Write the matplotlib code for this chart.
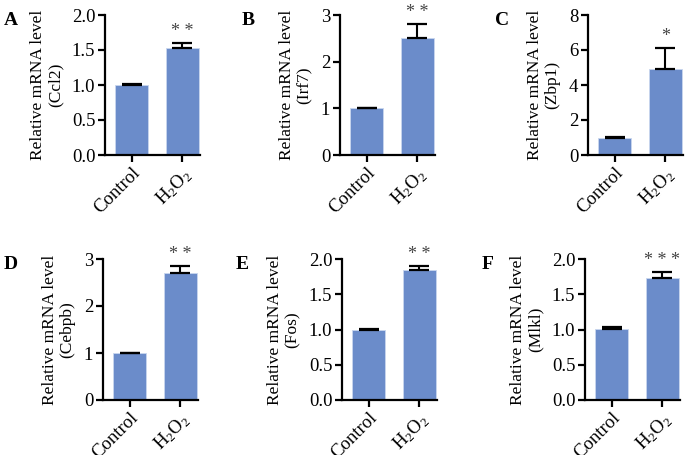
import matplotlib
matplotlib.use("Agg")
import matplotlib.pyplot as plt

plt.rcParams['font.family'] = ['Liberation Serif', 'DejaVu Serif']
plt.rcParams['mathtext.fontset'] = 'custom'
plt.rcParams['mathtext.rm'] = 'Liberation Serif'
plt.rcParams['mathtext.it'] = 'Liberation Serif:italic'

groups = ['Control', 'H$_2$O$_2$']
letters = ['A', 'B', 'C', 'D', 'E', 'F']
genes = ['Ccl2', 'Irf7', 'Zbp1', 'Cebpb', 'Fos', 'Mlkl']
control_vals = [1.0, 1.0, 1.0, 1.0, 1.0, 1.01]
control_err = [0.01, 0.0, 0.02, 0.01, 0.01, 0.02]
h2o2_vals = [1.53, 2.5, 4.9, 2.7, 1.84, 1.73]
h2o2_err = [0.07, 0.3, 1.2, 0.15, 0.06, 0.08]
stars = ['* *', '* *', '*', '* *', '* *', '* * *']
ymax = [2.0, 3, 8, 3, 2.0, 2.0]
yticks = [[0.0, 0.5, 1.0, 1.5, 2.0], [0, 1, 2, 3], [0, 2, 4, 6, 8],
          [0, 1, 2, 3], [0.0, 0.5, 1.0, 1.5, 2.0], [0.0, 0.5, 1.0, 1.5, 2.0]]
ytick_fmt = ['{:.1f}', '{:.0f}', '{:.0f}', '{:.0f}', '{:.1f}', '{:.1f}']

W, H = 693, 455
fig = plt.figure(figsize=(W / 100, H / 100), dpi=100)

# axes boxes in pixels: left x of y-axis, top, bottom
boxes = [(105, 15, 155), (340, 15, 155), (588, 15, 155),
         (103, 259, 400), (342, 259, 400), (585, 259, 400)]
letter_pos = [(4, 12), (242, 12), (495, 12), (4, 256), (236, 256), (482, 256)]
bar_color = '#6b8cca'
spacing = 50.5
x0, x1 = -0.53, 1.36

for i in range(6):
    left, top, bot = boxes[i]
    w = (x1 - x0) * spacing
    ax = fig.add_axes([left / W, (H - bot) / H, w / W, (bot - top) / H])
    vals = [control_vals[i], h2o2_vals[i]]
    errs = [control_err[i], h2o2_err[i]]
    ax.bar([0, 1], vals, width=0.66, color=bar_color, edgecolor='#c9d6ee',
           linewidth=0.6, zorder=2)
    ax.errorbar([0, 1], vals, yerr=[[0, 0], errs], fmt='none', ecolor='black',
                elinewidth=1.5, capsize=7, capthick=1.6, zorder=3)
    ax.text(1, vals[1] + errs[1] + ymax[i] * 0.025, stars[i], ha='center',
            va='bottom', fontsize=13, color='#444444')
    ax.set_xlim(x0, x1)
    ax.set_ylim(0, ymax[i])
    ax.set_yticks(yticks[i])
    ax.set_yticklabels([ytick_fmt[i].format(t) for t in yticks[i]])
    ax.set_xticks([0, 1])
    ax.set_xticklabels(groups, rotation=45, ha='right', rotation_mode='anchor')
    for s in ['top', 'right']:
        ax.spines[s].set_visible(False)
    for s in ['left', 'bottom']:
        ax.spines[s].set_linewidth(1.6)
    ax.tick_params(axis='both', width=1.6, length=5, labelsize=13.5, pad=2)
    ax.set_ylabel('Relative mRNA level\n(' + genes[i] + ')', fontsize=12.5,
                  linespacing=1.15, labelpad=6)
    fig.text(letter_pos[i][0] / W, 1 - letter_pos[i][1] / H, letters[i],
             fontsize=14, fontweight='bold', va='top', ha='left')

fig.savefig('out.png', dpi=100)
